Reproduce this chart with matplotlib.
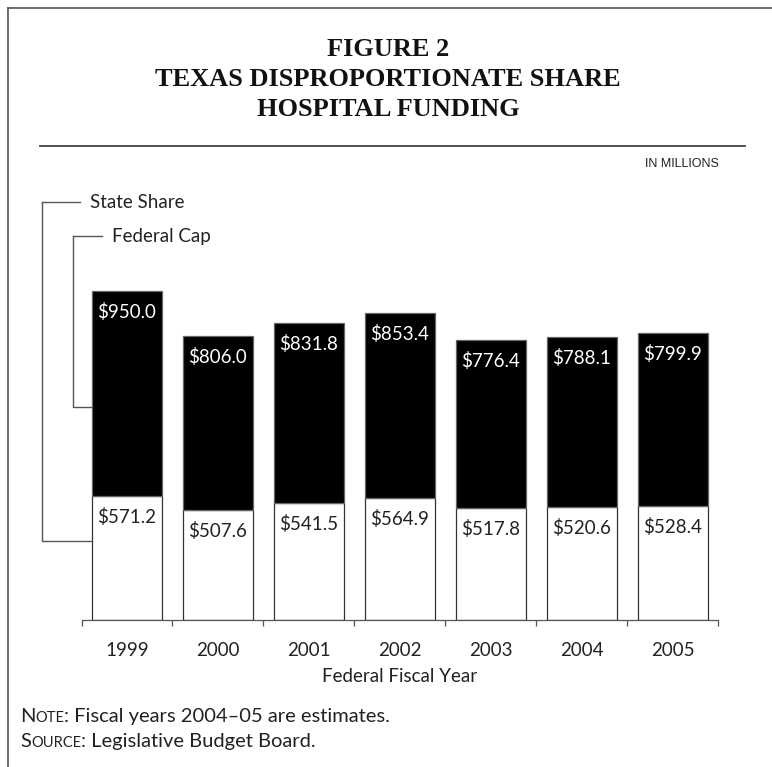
import matplotlib
matplotlib.use("Agg")
import matplotlib.pyplot as plt
from matplotlib.lines import Line2D

# Texas DSH funding, in millions
years = ["1999", "2000", "2001", "2002", "2003", "2004", "2005"]
state_share = [571.2, 507.6, 541.5, 564.9, 517.8, 520.6, 528.4]
federal_cap = [950.0, 806.0, 831.8, 853.4, 776.4, 788.1, 799.9]

W, H = 772, 767
BODY = "Lato"
TITLE = "Liberation Serif"
INK = "#222222"


def fx(px):
    return px / W


def fy(py):
    return 1 - py / H


fig = plt.figure(figsize=(W / 100, H / 100), dpi=100)

# frame: left edge and top edge, plus the rule under the title
fig.add_artist(Line2D([fx(8), fx(8)], [fy(8), 0], color="#555555", lw=1.2))
fig.add_artist(Line2D([fx(8), 1], [fy(8), fy(8)], color="#555555", lw=1.2))
fig.add_artist(Line2D([fx(40), fx(745)], [fy(146), fy(146)], color="#444444", lw=1.3))

for i, line in enumerate(["FIGURE 2", "TEXAS DISPROPORTIONATE SHARE", "HOSPITAL FUNDING"]):
    fig.text(fx(388), fy(50 + 30 * i), line, ha="center", va="center",
             fontsize=19, fontweight="bold", family=TITLE, color="#111111")

fig.text(fx(719), fy(164), "IN MILLIONS", ha="right", va="center",
         fontsize=9, family="Liberation Sans", color=INK)

# chart area
ax = fig.add_axes([fx(81.5), fy(620), fx(718) - fx(81.5), fy(274) - fy(620)])
x = list(range(len(years)))
bw = 0.77
ax.bar(x, state_share, width=bw, color="white", edgecolor="#333333", linewidth=0.9)
ax.bar(x, federal_cap, width=bw, bottom=state_share, color="black",
       edgecolor="#666666", linewidth=0.9)

for i in x:
    ax.annotate(f"${state_share[i]:.1f}", (i, state_share[i]), xytext=(0, -15),
                textcoords="offset points", ha="center", va="center",
                fontsize=13.5, family=BODY, color=INK)
    top = state_share[i] + federal_cap[i]
    ax.annotate(f"${federal_cap[i]:.1f}", (i, top), xytext=(0, -15),
                textcoords="offset points", ha="center", va="center",
                fontsize=13.5, family=BODY, color="white")

ax.set_xlim(-0.5, len(years) - 0.5)
ax.set_ylim(0, 1600)
for s in ["top", "right", "left"]:
    ax.spines[s].set_visible(False)
ax.spines["bottom"].set_color("#555555")
ax.spines["bottom"].set_linewidth(0.9)
ax.set_yticks([])

# tick marks between bars, year labels under bar centres
ax.set_xticks([i - 0.5 for i in range(len(years) + 1)])
ax.set_xticklabels([])
ax.tick_params(axis="x", which="major", direction="out", length=4, width=0.9, color="#555555")
ax.set_xticks(x, minor=True)
ax.set_xticklabels(years, minor=True, fontsize=13.5, family=BODY, color=INK)
ax.tick_params(axis="x", which="minor", length=0, pad=16)

ax.text(3, -260, "Federal Fiscal Year", ha="center", va="center",
        fontsize=13.5, family=BODY, color=INK)

# legend leaders hooked onto the first bar
left0 = -bw / 2
state_y = state_share[0] * 0.64
fed_y = state_share[0] + federal_cap[0] * 0.435
ax.plot([-0.934, -0.934, left0], [1932, state_y, state_y], color="#555555", lw=1.0, clip_on=False)
ax.plot([-0.934, -0.52], [1932, 1932], color="#555555", lw=1.0, clip_on=False)
ax.text(-0.41, 1932, "State Share", ha="left", va="center", fontsize=13.5,
        family=BODY, color=INK, clip_on=False)
ax.plot([-0.594, -0.594, left0], [1775, fed_y, fed_y], color="#555555", lw=1.0, clip_on=False)
ax.plot([-0.594, -0.27], [1775, 1775], color="#555555", lw=1.0, clip_on=False)
ax.text(-0.16, 1775, "Federal Cap", ha="left", va="center", fontsize=13.5,
        family=BODY, color=INK, clip_on=False)

# notes with small-caps lead words
renderer = fig.canvas.get_renderer()


def small_caps_line(py, head, rest):
    t = fig.text(fx(20), fy(py), head[0], ha="left", va="baseline",
                 fontsize=14.5, family=BODY, color=INK)
    ext = t.get_window_extent(renderer)
    t2 = fig.text(ext.x1 / W, fy(py), head[1:].upper(), ha="left", va="baseline",
                  fontsize=10.5, family=BODY, color=INK)
    ext2 = t2.get_window_extent(renderer)
    fig.text(ext2.x1 / W, fy(py), rest, ha="left", va="baseline",
             fontsize=14.5, family=BODY, color=INK)


small_caps_line(722, "Note", ": Fiscal years 2004\u201305 are estimates.")
small_caps_line(747, "Source", ": Legislative Budget Board.")

fig.savefig("out.png", dpi=100, facecolor="white")
